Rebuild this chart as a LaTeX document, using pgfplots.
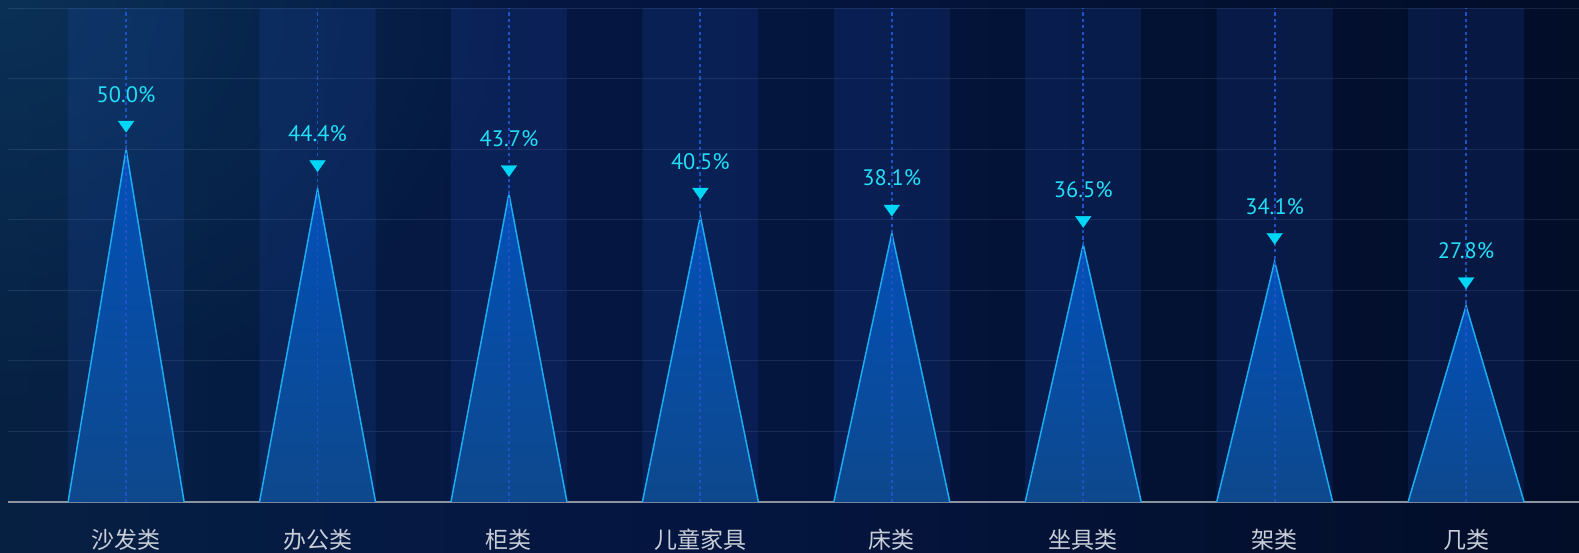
\documentclass[border=0pt]{standalone}
\usepackage{pgfplots}
\pgfplotsset{compat=1.18}
\usepackage{fontspec}
\setmainfont{PT Sans}
\newfontfamily\cjk{Noto Sans CJK SC}
\usetikzlibrary{fadings}
\definecolor{bg0}{RGB}{6,32,66}
\definecolor{bg1}{RGB}{5,28,66}
\definecolor{bg2}{RGB}{5,24,66}
\definecolor{bg3}{RGB}{4,21,62}
\definecolor{bg35}{RGB}{3,17,50}
\definecolor{bg4}{RGB}{2,13,40}
\definecolor{glowc}{RGB}{14,60,100}
\definecolor{bandc}{RGB}{40,90,210}
\definecolor{tritop}{RGB}{2,80,184}
\definecolor{tribot}{RGB}{14,72,140}
\definecolor{edgec}{RGB}{28,172,242}
\definecolor{dashc}{RGB}{32,82,198}
\definecolor{mkc}{RGB}{0,214,246}
\definecolor{lblc}{RGB}{34,222,246}
\definecolor{catc}{RGB}{200,205,216}
\definecolor{basec}{RGB}{140,146,160}
\pgfdeclarehorizontalshading{bgshade}{100bp}{color(0bp)=(bg0); color(25bp)=(bg0); color(32.5bp)=(bg1); color(40bp)=(bg2); color(50bp)=(bg3); color(62.5bp)=(bg35); color(75bp)=(bg4); color(100bp)=(bg4)}
\tikzfading[name=glowfade, inner color=transparent!40, outer color=transparent!100]
\begin{document}
\begin{tikzpicture}
\shade[shading=bgshade] (-4pt,-25pt) rectangle (785.5pt,251pt);
\fill[glowc, path fading=glowfade] (-4pt,251pt) ellipse (260pt and 210pt);
\begin{axis}[
  at={(0,0)}, anchor=south west,
  scale only axis, width=785.5pt, height=247pt,
  xmin=-0.617, xmax=7.59, ymin=0, ymax=70,
  clip=false,
  axis x line*=bottom, axis y line*=left,
  x axis line style={draw=basec, line width=1pt},
  y axis line style={draw=none},
  major tick length=0pt,
  xtick={0,...,7},
  xticklabels={沙发类,办公类,柜类,儿童家具,床类,坐具类,架类,几类},
  xticklabel style={font=\cjk\fontsize{11.5}{13}\selectfont, text=catc, anchor=center, yshift=-19pt},
  ytick={0,10,...,70},
  yticklabels={},
  ymajorgrids,
  y grid style={draw=white, draw opacity=0.09, line width=0.5pt},
]
\addplot[ybar, bar width=0.606, bar shift=0pt, draw=none, fill=bandc, fill opacity=0.15]
  coordinates {(0,70) (1,70) (2,70) (3,70) (4,70) (5,70) (6,70) (7,70)};
\addplot[draw=edgec, line width=0.75pt, top color=tritop, bottom color=tribot] coordinates {(-0.303,0) (0,50.0) (0.303,0)};
\addplot[draw=edgec, line width=0.75pt, top color=tritop, bottom color=tribot] coordinates {(0.697,0) (1,44.4) (1.303,0)};
\addplot[draw=edgec, line width=0.75pt, top color=tritop, bottom color=tribot] coordinates {(1.697,0) (2,43.7) (2.303,0)};
\addplot[draw=edgec, line width=0.75pt, top color=tritop, bottom color=tribot] coordinates {(2.697,0) (3,40.5) (3.303,0)};
\addplot[draw=edgec, line width=0.75pt, top color=tritop, bottom color=tribot] coordinates {(3.697,0) (4,38.1) (4.303,0)};
\addplot[draw=edgec, line width=0.75pt, top color=tritop, bottom color=tribot] coordinates {(4.697,0) (5,36.5) (5.303,0)};
\addplot[draw=edgec, line width=0.75pt, top color=tritop, bottom color=tribot] coordinates {(5.697,0) (6,34.1) (6.303,0)};
\addplot[draw=edgec, line width=0.75pt, top color=tritop, bottom color=tribot] coordinates {(6.697,0) (7,27.8) (7.303,0)};
\addplot[ycomb, mark=none, draw=dashc, line width=0.9pt, dash pattern=on 1.6pt off 1.6pt]
  coordinates {(0,70) (1,70) (2,70) (3,70) (4,70) (5,70) (6,70) (7,70)};
\addplot[only marks, mark=triangle*, mark size=4.5pt, color=mkc,
  mark options={yshift=12.2pt, rotate=180, yscale=0.82, fill=mkc, draw=mkc, line width=0.2pt},
  point meta=explicit symbolic,
  nodes near coords,
  every node near coord/.append style={anchor=center, yshift=15.3pt, text=lblc, font=\fontsize{11.2}{13}\selectfont, inner sep=0pt}]
  coordinates {(0,50.0) [50.0\%] (1,44.4) [44.4\%] (2,43.7) [43.7\%] (3,40.5) [40.5\%] (4,38.1) [38.1\%] (5,36.5) [36.5\%] (6,34.1) [34.1\%] (7,27.8) [27.8\%]};
\end{axis}
\pgfresetboundingbox
\path (-4pt,-25pt) rectangle (785.5pt,251pt);
\end{tikzpicture}
\end{document}
